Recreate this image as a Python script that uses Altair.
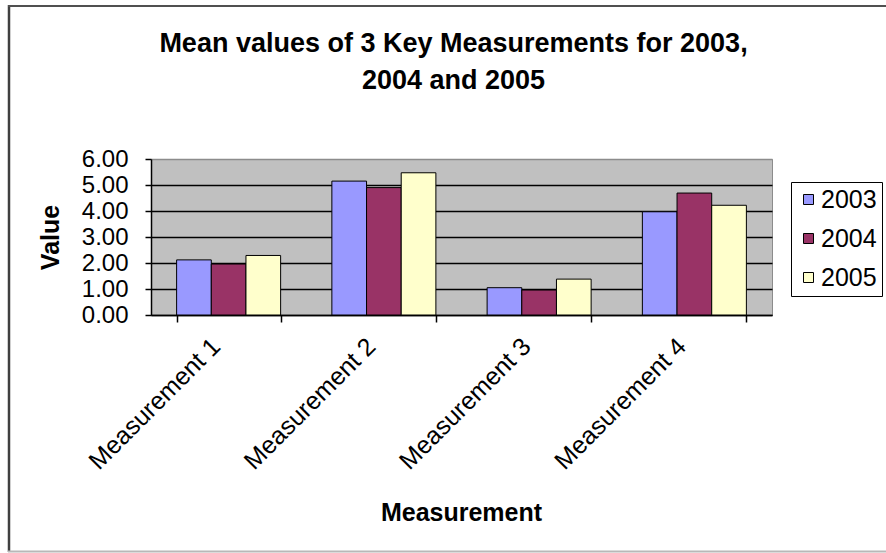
import altair as alt
import pandas as pd

# Category labels, series names and mean values per series
measurements = ["Measurement 1", "Measurement 2", "Measurement 3", "Measurement 4"]
years = ["2003", "2004", "2005"]
values_2003 = [2.12, 5.15, 1.05, 3.97]
values_2004 = [1.96, 4.90, 0.96, 4.69]
values_2005 = [2.29, 5.47, 1.38, 4.22]
year_colors = ["#9999FF", "#993366", "#FFFFCC"]
y_ticks = [0, 1, 2, 3, 4, 5, 6]

rows = []
for year, series in zip(years, [values_2003, values_2004, values_2005]):
    for m, v in zip(measurements, series):
        rows.append({"Measurement": m, "Year": year, "Value": v})
df = pd.DataFrame(rows)

FONT = "Liberation Sans"

bars = alt.Chart(df).mark_bar(stroke="black", strokeWidth=1).encode(
    x=alt.X(
        "Measurement:N",
        sort=measurements,
        scale=alt.Scale(paddingInner=0.33, paddingOuter=0.165),
        axis=alt.Axis(
            title="Measurement",
            titleFont=FONT,
            titleFontSize=25,
            titleFontWeight="bold",
            titleColor="black",
            titleX=310,
            titleY=205,
            titleBaseline="alphabetic",
            labelFont=FONT,
            labelFontSize=25,
            labelColor="black",
            labelAngle=-45,
            labelAlign="right",
            labelBaseline="middle",
            labelPadding=20,
            labelOffset=-13,
            tickBand="extent",
            tickColor="black",
            tickSize=7,
            tickWidth=1.5,
            domainColor="black",
            domainWidth=1.5,
            grid=False,
        ),
    ),
    xOffset=alt.XOffset("Year:N", sort=years, scale=alt.Scale(paddingInner=0, paddingOuter=0)),
    y=alt.Y(
        "Value:Q",
        scale=alt.Scale(domain=[0, 6], nice=False),
        axis=alt.Axis(
            title="Value",
            titleFont=FONT,
            titleFontSize=25,
            titleFontWeight="bold",
            titleColor="black",
            titlePadding=18,
            values=y_ticks,
            format=".2f",
            labelFont=FONT,
            labelFontSize=24,
            labelColor="black",
            labelPadding=17,
            tickColor="black",
            tickSize=6,
            tickWidth=1.5,
            domainColor="black",
            domainWidth=1.5,
            grid=True,
            gridColor={"condition": {"test": "datum.value >= 6", "value": "#8c8c8c"}, "value": "black"},
            gridWidth=1.5,
        ),
    ),
    color=alt.Color(
        "Year:N",
        sort=years,
        scale=alt.Scale(domain=years, range=year_colors),
        legend=alt.Legend(
            title=None,
            orient="none",
            legendX=640,
            legendY=23,
            strokeColor="black",
            fillColor="white",
            padding=5,
            symbolType="square",
            symbolSize=100,
            symbolStrokeColor="black",
            symbolStrokeWidth=1,
            symbolOffset=0,
            labelFont=FONT,
            labelFontSize=25,
            labelColor="black",
            labelOffset=0,
            rowPadding=13,
        ),
    ),
)

# Outer chart frame
frame_src = pd.DataFrame({"k": [0]})
frame_left = alt.Chart(frame_src).mark_rule(color="#404040", strokeWidth=2.5).encode(
    x=alt.value(-142), y=alt.value(-154), y2=alt.value(393)
)
frame_top = alt.Chart(frame_src).mark_rule(color="#505050", strokeWidth=2).encode(
    x=alt.value(-143), x2=alt.value(760), y=alt.value(-153)
)
frame_bottom = alt.Chart(frame_src).mark_rule(color="#b8b8b8", strokeWidth=2).encode(
    x=alt.value(-143), x2=alt.value(760), y=alt.value(392.5)
)

chart = (
    alt.layer(frame_left, frame_top, frame_bottom, bars)
    .properties(
        width=621,
        height=156,
        autosize=alt.AutoSizeParams(type="none"),
        padding={"left": 151, "top": 159, "right": 114, "bottom": 238},
        background="white",
        title=alt.Title(
            ["Mean values of 3 Key Measurements for 2003,", "2004 and 2005"],
            font=FONT,
            fontSize=27,
            fontWeight="bold",
            color="black",
            anchor="middle",
            frame="group",
            baseline="alphabetic",
            lineHeight=37,
            offset=0,
            dy=112,
            dx=-8,
        ),
    )
    .configure_view(fill="#C0C0C0", stroke="#8c8c8c", strokeWidth=1)
)

chart.save("out.html", embed_options={"renderer": "svg", "actions": False})
